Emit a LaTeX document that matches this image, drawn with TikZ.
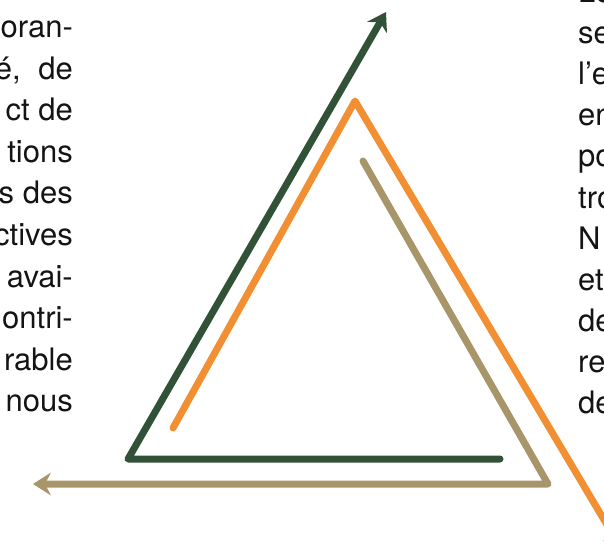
\documentclass[tikz,border=0pt]{standalone}
\usepackage{fontspec}
\setmainfont{TeX Gyre Heros}
\usepackage{tikz}
\usetikzlibrary{arrows.meta, calc}
\definecolor{tgreen}{HTML}{325238}
\definecolor{torange}{HTML}{F28F33}
\definecolor{ttan}{HTML}{A8966A}
\tikzset{
  band/.style    = {line width=7pt, line cap=round, line join=round},
  bandtip/.style = {-{Stealth[length=18pt, width=23pt, inset=6pt, line width=0pt]}},
  coltext/.style = {font=\fontsize{31}{41.5}\selectfont, text=black!92, inner sep=0pt},
}

\begin{document}
\begin{tikzpicture}[x=1pt, y=-1pt]
  \useasboundingbox (0,0) rectangle (604,545);
  \clip (0,0) rectangle (604,545);
  % left column, right aligned
  \node[coltext, anchor=base east] (l1)  at (73,38)    {oran-};
  \node[coltext, anchor=base east] (l2)  at (73,79.5)  {é,\hspace{9pt} de};
  \node[coltext, anchor=base east] (l3)  at (73,121)   {ct de};
  \node[coltext, anchor=base east] (l4)  at (73,162.5) {tions};
  \node[coltext, anchor=base east] (l5)  at (73,204)   {s des};
  \node[coltext, anchor=base east] (l6)  at (73,245.5) {ctives};
  \node[coltext, anchor=base east] (l7)  at (73,287)   {avai-};
  \node[coltext, anchor=base east] (l8)  at (73,328.5) {ontri-};
  \node[coltext, anchor=base east] (l9)  at (73,370)   {rable};
  \node[coltext, anchor=base east] (l10) at (73,411.5) {nous};
  % right column, cut by the border
  \node[coltext, anchor=base west] (r0)  at (578,3)   {Le};
  \node[coltext, anchor=base west] (r1)  at (578,44)  {se};
  \node[coltext, anchor=base west] (r2)  at (578,85)  {l’e};
  \node[coltext, anchor=base west] (r3)  at (578,126) {en};
  \node[coltext, anchor=base west] (r4)  at (578,167) {po};
  \node[coltext, anchor=base west] (r5)  at (578,208) {tro};
  \node[coltext, anchor=base west] (r6)  at (578,249) {N};
  \node[coltext, anchor=base west] (r7)  at (578,290) {et};
  \node[coltext, anchor=base west] (r8)  at (578,331) {de};
  \node[coltext, anchor=base west] (r9)  at (578,372) {re};
  \node[coltext, anchor=base west] (r10) at (578,413) {de};
  % the three bands
  \coordinate (gstart) at (500,459);
  \coordinate (gcorner) at (128,459);
  \coordinate (gtip) at (386,12);
  \coordinate (ostart) at (173,428);
  \coordinate (oapex) at (355,101);
  \coordinate (otip) at (622,550);
  \coordinate (tstart) at (363,161);
  \coordinate (tcorner) at (548,484);
  \coordinate (ttip) at (33,484);
  \draw[band, bandtip, draw=ttan] (tstart) -- (tcorner) -- (ttip);
  \draw[band, bandtip, draw=torange] (ostart) -- (oapex) -- (otip);
  \draw[band, bandtip, draw=tgreen] (gstart) -- (gcorner) -- (gtip);
\end{tikzpicture}
\end{document}
